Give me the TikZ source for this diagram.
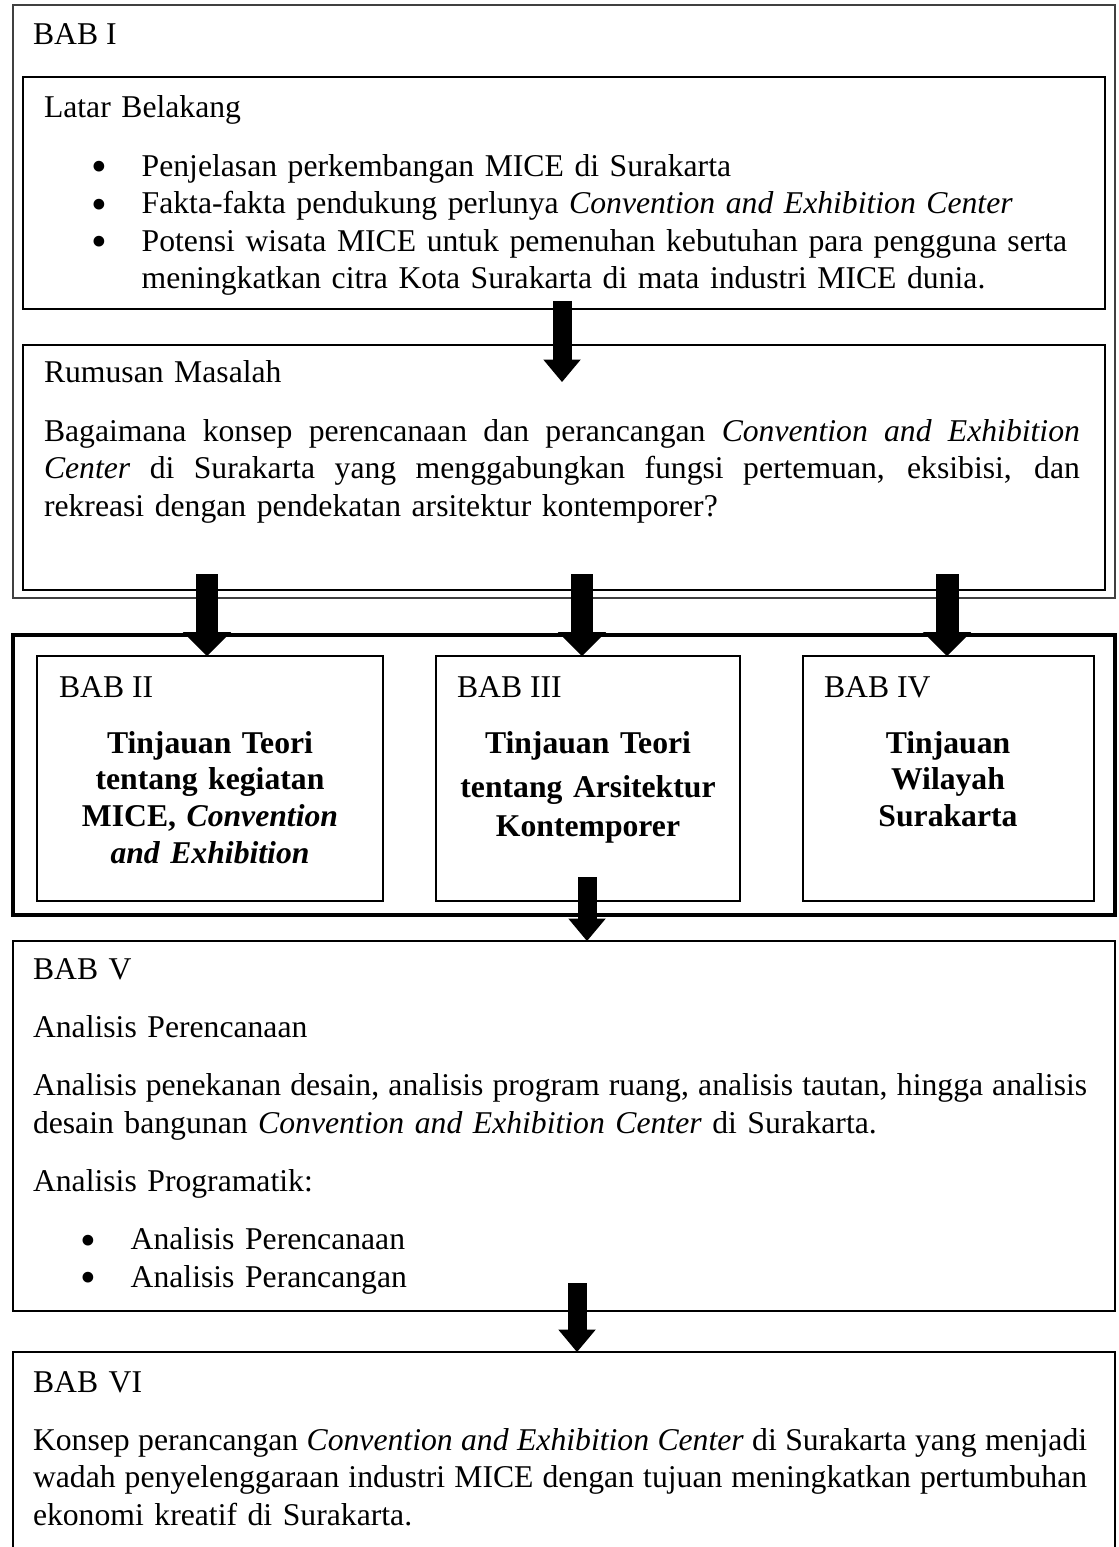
\documentclass[tikz,border=0pt]{standalone}
\usepackage{fontspec}
\setmainfont{Liberation Serif}
\usetikzlibrary{arrows.meta}

% one pixel of the page
\newcommand{\pxl}{0.3788pt}
% bullet item, justified line and gap between paragraphs
\newcommand{\bul}[1]{\hspace*{18pt}\makebox[19pt][l]{\raisebox{-2pt}[4pt][0pt]{\fontsize{17}{17}\selectfont\textbullet}}#1}
\newcommand{\rata}[2]{\leavevmode{\spaceskip=3pt plus 3pt minus 1.2pt\xspaceskip=3pt plus 3pt minus 1.2pt\hbox to #1{#2}}}
\newcommand{\parstep}{\\[7.9pt]}

\begin{document}
\begin{tikzpicture}[x=\pxl,y=-\pxl,
  every node/.style={inner sep=0pt,outer sep=0pt},
  babbox/.style n args={2}{draw,line width=0.75pt,anchor=north west,
    minimum width=#1*\pxl,minimum height=#2*\pxl},
  isi/.style={anchor=base west,
    font={\fontsize{12}{14.2}\selectfont\spaceskip=3pt\xspaceskip=3pt}},
  judul/.style={anchor=base,align=center,text width=130pt,
    font={\fontsize{12}{13.9}\selectfont\bfseries\spaceskip=3pt\xspaceskip=3pt}},
  panahbesar/.style={line width=8.7pt,
    -{Triangle[length=9pt,width=18.2pt,line width=0pt]}},
  panahkecil/.style={line width=7.2pt,
    -{Triangle[length=8.5pt,width=14.2pt,line width=0pt]}}]
  \useasboundingbox (0,0) rectangle (1118,1547);
  %
  % Frames
  \node[babbox={1102}{593},line width=0.5pt,draw=black!75] (bab1) at (13,5) {};
  \node[babbox={1082}{232}] (latar) at (23,77) {};
  \node[babbox={1082}{245}] (rumusan) at (23,345) {};
  \node[babbox={1102}{280},line width=1.2pt] (kajian) at (13,635) {};
  \node[babbox={346}{245}] (bab2) at (37,656) {};
  \node[babbox={304}{245}] (bab3) at (436,656) {};
  \node[babbox={291}{245}] (bab4) at (803,656) {};
  \node[babbox={1102}{370}] (bab5) at (13,941) {};
  \node[babbox={1102}{260}] (bab6) at (13,1352) {};
  %
  % BAB I
  \node[isi] (bab1t) at (33,45) {BAB I};
  \node[isi,text width=400pt] (latart) at (44,118) {Latar Belakang\parstep
    \bul{Penjelasan perkembangan MICE di Surakarta}\\
    \bul{Fakta-fakta pendukung perlunya \textit{Convention and Exhibition Center}}\\
    \bul{Potensi wisata MICE untuk pemenuhan kebutuhan para pengguna serta}\\
    \hspace*{37pt}meningkatkan citra Kota Surakarta di mata industri MICE dunia.};
  \node[isi,text width=400pt] (rumusant) at (44,383) {Rumusan Masalah\parstep
    \rata{392.4pt}{Bagaimana konsep perencanaan dan perancangan \textit{Convention and Exhibition}}\\
    \rata{392.4pt}{\textit{Center} di Surakarta yang menggabungkan fungsi pertemuan, eksibisi, dan}\\
    rekreasi dengan pendekatan arsitektur kontemporer?};
  %
  % BAB II - IV
  \node[isi] (bab2t) at (59,697) {BAB II};
  \node[isi] (bab3t) at (457,697) {BAB III};
  \node[isi] (bab4t) at (824,697) {BAB IV};
  \node[judul] (bab2j) at (210,753) {Tinjauan Teori\\ tentang kegiatan\\
    MICE, \textit{Convention}\\ \textit{and Exhibition}};
  \node[judul] (bab3j) at (588,753) {Tinjauan Teori\\[3.1pt]
    tentang Arsitektur\\[0.9pt] Kontemporer};
  \node[judul] (bab4j) at (948,753) {Tinjauan\\ Wilayah\\ Surakarta};
  %
  % BAB V
  \node[isi,text width=410pt] (bab5t) at (33,979) {BAB V\parstep
    Analisis Perencanaan\parstep
    \rata{399.3pt}{Analisis penekanan desain, analisis program ruang, analisis tautan, hingga analisis}\\
    desain bangunan \textit{Convention and Exhibition Center} di Surakarta.\parstep
    Analisis Programatik:\parstep
    \bul{Analisis Perencanaan}\\
    \bul{Analisis Perancangan}};
  %
  % BAB VI
  \node[isi,text width=410pt] (bab6t) at (33,1392) {BAB VI\parstep
    \rata{399.3pt}{Konsep perancangan \textit{Convention and Exhibition Center} di Surakarta yang menjadi}\\
    \rata{399.3pt}{wadah penyelenggaraan industri MICE dengan tujuan meningkatkan pertumbuhan}\\
    ekonomi kreatif di Surakarta.};
  %
  % Arrows
  \coordinate (a1) at (562,301);
  \coordinate (a1tip) at (562,382);
  \coordinate (a2) at (207,574);
  \coordinate (a3) at (582,574);
  \coordinate (a4) at (947,574);
  \coordinate (a5) at (587,877);
  \coordinate (a6) at (577,1283);
  \draw[panahkecil] (a1) -- (a1tip);
  \draw[panahbesar] (a2) -- (a2 |- bab2.north);
  \draw[panahbesar] (a3) -- (a3 |- bab3.north);
  \draw[panahbesar] (a4) -- (a4 |- bab4.north);
  \draw[panahkecil] (a5) -- (a5 |- bab5.north);
  \draw[panahkecil] (a6) -- (a6 |- bab6.north);
  %
\end{tikzpicture}
\end{document}
